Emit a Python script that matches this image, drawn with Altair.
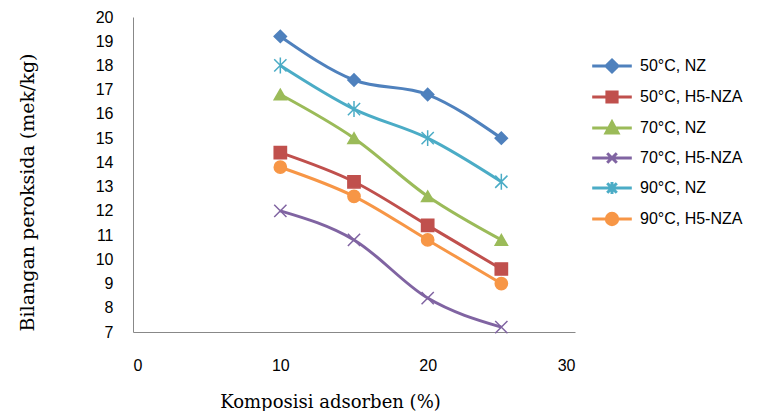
import altair as alt
import pandas as pd

x_vals = [10, 15, 20, 25]
series_names = ["50°C, NZ", "50°C, H5-NZA", "70°C, NZ", "70°C, H5-NZA", "90°C, NZ", "90°C, H5-NZA"]
s50_nz = [19.2, 17.4, 16.8, 15.0]
s50_h5 = [14.4, 13.2, 11.4, 9.6]
s70_nz = [16.8, 15.0, 12.6, 10.8]
s70_h5 = [12.0, 10.8, 8.4, 7.2]
s90_nz = [18.0, 16.2, 15.0, 13.2]
s90_h5 = [13.8, 12.6, 10.8, 9.0]
colors = ["#4F81BD", "#C0504D", "#9BBB59", "#8064A2", "#4BACC6", "#F79646"]
y_ticks = list(range(7, 21))
x_ticks = [0, 10, 20, 30]

all_series = [s50_nz, s50_h5, s70_nz, s70_h5, s90_nz, s90_h5]
rows = []
for name, vals in zip(series_names, all_series):
    for xv, yv in zip(x_vals, vals):
        rows.append({"x": xv, "y": yv, "Series": name, "Legend": name})
df = pd.DataFrame(rows)

point_shapes = [
    "diamond",
    "square",
    "triangle-up",
    "M-1,-1L1,1M-1,1L1,-1",
    "M-1,-1L1,1M-1,1L1,-1M0,-1.3L0,1.3",
    "circle",
]
legend_shapes = [
    "M-3.3,0H3.3M0,-1L1,0L0,1L-1,0Z",
    "M-3.3,0H3.3M-0.85,-0.85H0.85V0.85H-0.85Z",
    "M-3.3,0H3.3M0,-1L1,0.85H-1Z",
    "M-3.3,0H3.3M-0.8,-0.8L0.8,0.8M-0.8,0.8L0.8,-0.8",
    "M-3.3,0H3.3M-0.8,-0.8L0.8,0.8M-0.8,0.8L0.8,-0.8M0,-1V1",
    "M-3.3,0H3.3M-0.95,0A0.95,0.95 0 1,0 0.95,0A0.95,0.95 0 1,0 -0.95,0Z",
]

cscale = alt.Scale(domain=series_names, range=colors)

x_axis = alt.Axis(
    values=x_ticks, grid=False, ticks=False, domainColor="#888888",
    labelFont="Liberation Sans", labelFontSize=16, labelColor="#000000",
    labelPadding=25, labelOverlap=False, title="Komposisi adsorben  (%)",
    titleFont="DejaVu Serif", titleFontSize=18, titleFontWeight="normal",
    titleColor="#000000", titleX=197, titleY=75, titleBaseline="alphabetic",
    titleAlign="center",
)
y_axis = alt.Axis(
    values=y_ticks, grid=False, ticks=False, domainColor="#888888",
    labelFont="Liberation Sans", labelFontSize=16, labelColor="#000000",
    labelPadding=20, labelOverlap=False, labelFlush=False, labelBound=False,
    title="Bilangan peroksida (mek/kg)",
    titleFont="DejaVu Serif", titleFontSize=19, titleFontWeight="normal",
    titleColor="#000000", titleX=-106, titleY=175, titleAngle=-90,
    titleBaseline="middle", titleAlign="center",
)
x_enc = alt.X("x:Q", scale=alt.Scale(domain=[0, 30], nice=False), axis=x_axis)
y_enc = alt.Y("y:Q", scale=alt.Scale(domain=[7, 20], nice=False, zero=False), axis=y_axis)

base = alt.Chart(df)

lines = base.mark_line(strokeWidth=3, interpolate="monotone").encode(
    x=x_enc, y=y_enc,
    color=alt.Color("Series:N", scale=cscale, legend=None),
    detail="Series:N",
)

points = base.mark_point(filled=True, size=150, strokeWidth=1.5, opacity=1).encode(
    x=x_enc, y=y_enc,
    color=alt.Color("Series:N", scale=cscale, legend=None),
    stroke=alt.Stroke("Series:N", scale=cscale, legend=None),
    shape=alt.Shape("Series:N", scale=alt.Scale(domain=series_names, range=point_shapes), legend=None),
)

legend_layer = base.transform_filter("false").mark_point(filled=True, strokeWidth=3, opacity=1).encode(
    x=x_enc, y=y_enc,
    color=alt.Color("Legend:N", scale=alt.Scale(domain=series_names, range=colors), legend=alt.Legend(title=None)),
    stroke=alt.Stroke("Legend:N", scale=alt.Scale(domain=series_names, range=colors), legend=alt.Legend(title=None)),
    shape=alt.Shape("Legend:N", scale=alt.Scale(domain=series_names, range=legend_shapes), legend=alt.Legend(title=None)),
)

chart = alt.layer(lines, points, legend_layer).resolve_scale(
    color="independent", stroke="independent", shape="independent"
).properties(
    width=442, height=315,
    autosize=alt.AutoSizeParams(type="none"),
    padding={"left": 125, "top": 9, "right": 174, "bottom": 79},
).configure_view(stroke=None).configure_axis(
    labelOverlap=False
).configure_legend(
    orient="none", legendX=471, legendY=41,
    symbolSize=144, symbolStrokeWidth=3, symbolOpacity=1,
    labelFont="Liberation Sans", labelFontSize=16, labelColor="#000000",
    labelOffset=20, rowPadding=7, labelLimit=200,
)

chart.save("out.html", embed_options={"renderer": "svg", "actions": False})
